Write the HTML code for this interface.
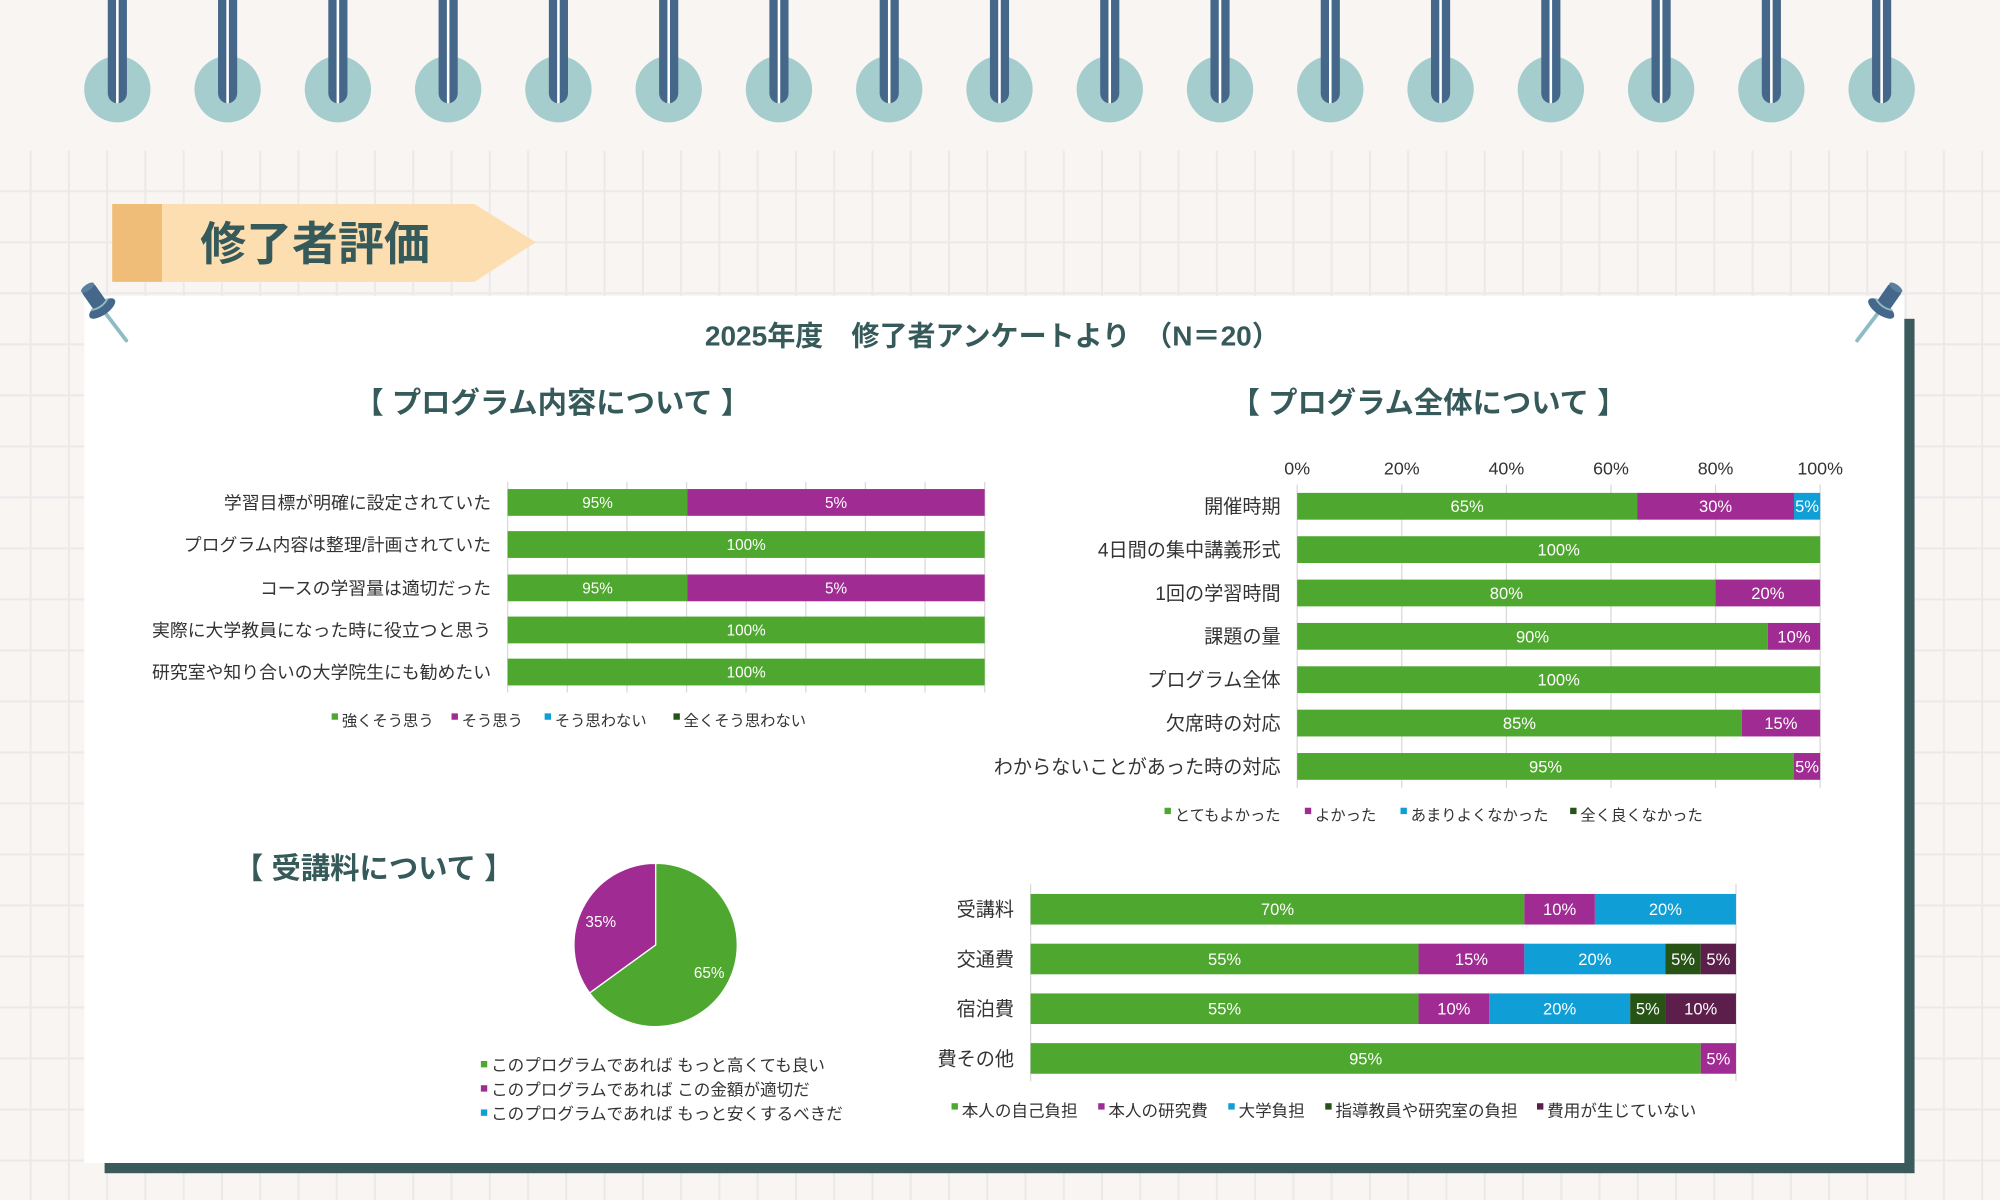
<!DOCTYPE html>
<html><head><meta charset="utf-8"><style>
html,body{margin:0;padding:0;background:#f9f5f3;}
svg{display:block;font-family:"Liberation Sans","Noto Sans CJK JP",sans-serif;}
</style></head><body>
<svg id="s" width="2000" height="1200" viewBox="0 0 1568 941" preserveAspectRatio="none" xmlns="http://www.w3.org/2000/svg">
<rect width="1568" height="941" fill="#f9f5f3"/>
<g id="grid" stroke="#ebe9ea" stroke-width="1.6"></g>
<g id="rings"></g>
<polygon points="88,160 372,160 420,190 372,221 88,221" fill="#fddeb0"/>
<rect x="88" y="160" width="39" height="61" fill="#f0bd78"/>
<text x="157" y="204" font-size="36" font-weight="bold" fill="#36595a">修了者評価</text>
<rect x="82" y="250" width="1419" height="670" fill="#3a5a5c"/>
<rect x="66" y="232" width="1427" height="680" fill="#ffffff"/>
<g id="pins"></g>
<text x="778" y="271" font-size="22" font-weight="bold" fill="#36595a" text-anchor="middle">2025年度　修了者アンケートより　（N＝20）</text>
<text x="433" y="324" font-size="23" font-weight="bold" fill="#36595a" text-anchor="middle">【 プログラム内容について 】</text>
<text x="1120" y="324" font-size="23" font-weight="bold" fill="#36595a" text-anchor="middle">【 プログラム全体について 】</text>
<text x="293" y="689" font-size="23" font-weight="bold" fill="#36595a" text-anchor="middle">【 受講料について 】</text>
<g id="charts"></g>
</svg>
<script>
var NS="http://www.w3.org/2000/svg";
function el(p,t,a,txt){var e=document.createElementNS(NS,t);for(var k in a)e.setAttribute(k,a[k]);if(txt!=null)e.textContent=txt;p.appendChild(e);return e;}
var g=document.getElementById('grid');
for(var x=24;x<1568;x+=30)el(g,'line',{x1:x,y1:118,x2:x,y2:941});
for(var y=150;y<941;y+=40)el(g,'line',{x1:0,y1:y,x2:1568,y2:y});
var r=document.getElementById('rings');
for(var i=0;i<17;i++){var cx=92+i*86.45;
 el(r,'ellipse',{cx:cx,cy:70,rx:26,ry:26,fill:'#a5cdcd'});
 el(r,'path',{d:'M'+(cx-7.5)+',0 V73 a7.5,8 0 0 0 15,0 V0 Z',fill:'#456789'});
 el(r,'rect',{x:cx-1,y:0,width:2,height:81,fill:'#fff'});}
var p=document.getElementById('pins');
[[83,246],[1472,246]].forEach(function(c,j){var gg=el(p,'g',{transform:'translate('+c[0]+','+c[1]+')'+(j?' scale(-1,1)':'')});
 el(gg,'line',{x1:0,y1:0,x2:16,y2:21,stroke:'#8fbcc4','stroke-width':3,'stroke-linecap':'round'});
 var h=el(gg,'g',{transform:'rotate(-35)'});
 el(h,'rect',{x:-6,y:-25,width:12,height:18,rx:2,fill:'#456789'});
 el(h,'ellipse',{cx:0,cy:-25,rx:6,ry:2.5,fill:'#5a7fa0'});
 el(h,'ellipse',{cx:0,cy:-5,rx:12,ry:5,fill:'#456789'});
 el(h,'path',{d:'M-8,-9 Q0,-5 8,-9',stroke:'#8fbcc4','stroke-width':1.5,fill:'none'});});
var C=document.getElementById('charts');
var col=['#4ea72e','#a02b93','#0f9ed5','#275317','#5c1e4b'];
function hbar(x0,w,rows,h,fs,lx,lfs){rows.forEach(function(rw){var x=x0;
 el(C,'text',{x:lx,y:rw.y+lfs*0.36,'font-size':lfs,fill:'#333','text-anchor':'end'},rw.l);
 rw.v.forEach(function(v,k){if(!v)return;var ww=rw.w?rw.w[k]:w*v/100;el(C,'rect',{x:x,y:rw.y-h/2,width:ww,height:h,fill:col[k]});
 el(C,'text',{x:x+ww/2,y:rw.y+fs*0.36,'font-size':fs,fill:'#fff','text-anchor':'middle'},v+'%');x+=ww;});});}
function legend(items,y,fs){items.forEach(function(it,k){el(C,'rect',{x:it[0],y:y-fs*0.3-2,width:5,height:5,fill:col[k]});
 el(C,'text',{x:it[0]+8,y:y+fs*0.36,'font-size':fs,fill:'#333'},it[1]);});}
for(var i=0;i<=8;i++)el(C,'line',{x1:398+i*46.75,y1:378,x2:398+i*46.75,y2:543,stroke:'#d9d9d9'});
hbar(398,374,[{y:394,l:'学習目標が明確に設定されていた',v:[95,5],w:[141,233]},{y:427,l:'プログラム内容は整理/計画されていた',v:[100]},{y:461,l:'コースの学習量は適切だった',v:[95,5],w:[141,233]},{y:494,l:'実際に大学教員になった時に役立つと思う',v:[100]},{y:527,l:'研究室や知り合いの大学院生にも勧めたい',v:[100]}],21,12,385,14);
legend([[260,'強くそう思う'],[354,'そう思う'],[427,'そう思わない'],[528,'全くそう思わない']],565,12);
for(var i=0;i<=5;i++){var x=1017+i*82;el(C,'line',{x1:x,y1:380,x2:x,y2:618,stroke:'#d9d9d9'});
 el(C,'text',{x:x,y:372,'font-size':14,fill:'#333','text-anchor':'middle'},(i*20)+'%');}
hbar(1017,410,[{y:397,l:'開催時期',v:[65,30,5]},{y:431,l:'4日間の集中講義形式',v:[100]},{y:465,l:'1回の学習時間',v:[80,20]},{y:499,l:'課題の量',v:[90,10]},{y:533,l:'プログラム全体',v:[100]},{y:567,l:'欠席時の対応',v:[85,15]},{y:601,l:'わからないことがあった時の対応',v:[95,5]}],21,13,1004,15);
legend([[913,'とてもよかった'],[1023,'よかった'],[1098,'あまりよくなかった'],[1231,'全く良くなかった']],639,12);
var cx=514,cy=741,R=64,a=0.65*2*Math.PI;
var ex=cx+R*Math.sin(a),ey=cy-R*Math.cos(a);
el(C,'path',{d:'M'+cx+','+cy+' L'+cx+','+(cy-R)+' A'+R+','+R+' 0 1 1 '+ex+','+ey+' Z',fill:col[0],stroke:'#fff','stroke-width':1});
el(C,'path',{d:'M'+cx+','+cy+' L'+ex+','+ey+' A'+R+','+R+' 0 0 1 '+cx+','+(cy-R)+' Z',fill:col[1],stroke:'#fff','stroke-width':1});
el(C,'text',{x:556,y:767,'font-size':12,fill:'#fff','text-anchor':'middle'},'65%');
el(C,'text',{x:471,y:727,'font-size':12,fill:'#fff','text-anchor':'middle'},'35%');
['このプログラムであれば もっと高くても良い','このプログラムであれば この金額が適切だ','このプログラムであれば もっと安くするべきだ'].forEach(function(t,k){
 el(C,'rect',{x:377,y:832+k*19,width:5,height:5,fill:col[k]});el(C,'text',{x:385,y:840+k*19,'font-size':13,fill:'#333'},t);});
el(C,'line',{x1:808,y1:693,x2:808,y2:848,stroke:'#d9d9d9'});
el(C,'line',{x1:1361,y1:693,x2:1361,y2:848,stroke:'#d9d9d9'});
hbar(808,553,[{y:713,l:'受講料',v:[70,10,20]},{y:752,l:'交通費',v:[55,15,20,5,5]},{y:791,l:'宿泊費',v:[55,10,20,5,10]},{y:830,l:'費その他',v:[95,5]}],24,13,795,15);
legend([[746,'本人の自己負担'],[861,'本人の研究費'],[963,'大学負担'],[1039,'指導教員や研究室の負担'],[1205,'費用が生じていない']],871,13);
</script>
</body></html>
